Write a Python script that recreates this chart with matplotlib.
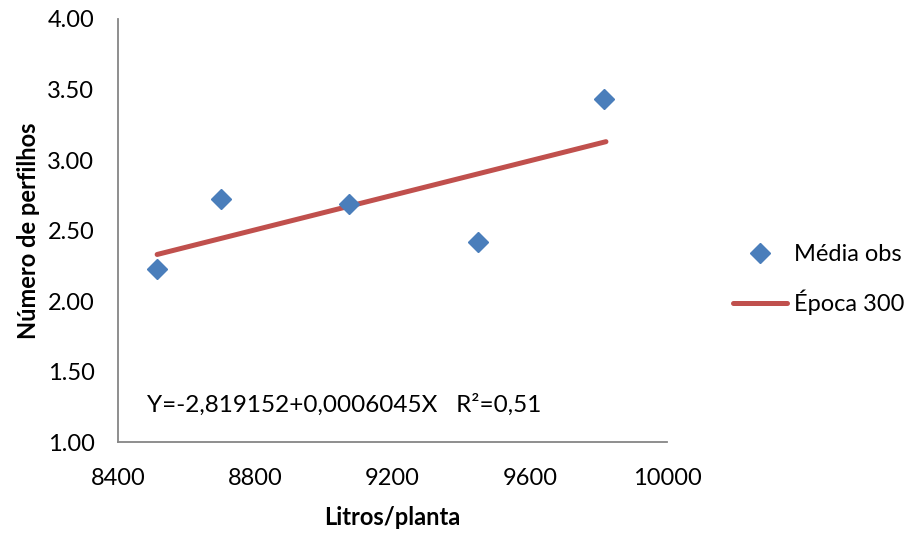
import matplotlib
matplotlib.use('Agg')
import matplotlib.pyplot as plt
from matplotlib.lines import Line2D

plt.rcParams['font.family'] = ['Lato', 'DejaVu Sans']

litros = [8514, 8700, 9073, 9450, 9815]
perfilhos = [2.23, 2.72, 2.69, 2.42, 3.43]

fit_x = [8514, 9822]
fit_y = [2.33, 3.13]

xticks = [8400, 8800, 9200, 9600, 10000]
yticks = [1.0, 1.5, 2.0, 2.5, 3.0, 3.5, 4.0]

BLUE = '#4a7ebb'
RED = '#c0504d'
GRAY = '#868686'

fig = plt.figure(figsize=(9.17, 5.35), dpi=100)
ax = fig.add_axes([0.1287, 0.1738, 0.5987, 0.7907])

ax.plot(fit_x, fit_y, color=RED, lw=3.6, solid_capstyle='round', zorder=2)
ax.plot(litros, perfilhos, 'D', color=BLUE, markersize=10.5, zorder=3)

ax.set_xlim(8400, 10000)
ax.set_ylim(1.0, 4.0)
ax.set_xticks(xticks)
ax.set_xticklabels([str(t) for t in xticks])
ax.set_yticks(yticks)
ax.set_yticklabels([f'{t:.2f}' for t in yticks])
ax.tick_params(length=0, labelsize=17)
ax.tick_params(axis='y', pad=17)
ax.tick_params(axis='x', pad=19)

for s in ['top', 'right']:
    ax.spines[s].set_visible(False)
for s in ['left', 'bottom']:
    ax.spines[s].set_color(GRAY)
    ax.spines[s].set_linewidth(1.3)

ax.set_xlabel('Litros/planta', fontsize=17, fontweight='bold', labelpad=12)
ax.set_ylabel('Número de perfilhos', fontsize=17, fontweight='bold', labelpad=5)

ax.text(0.053, 0.0875, 'Y=-2,819152+0,0006045X   R²=0,51', transform=ax.transAxes,
        fontsize=17.5, va='center', ha='left')

handles = [
    Line2D([], [], marker='D', color=BLUE, ls='none', markersize=10.5),
    Line2D([], [], color=RED, lw=3.6, solid_capstyle='round'),
]
fig.legend(handles, ['Média obs', 'Época 300'], loc='center left',
           bbox_to_anchor=(0.776, 0.477), frameon=False, fontsize=17,
           handlelength=2.3, labelspacing=1.05, handletextpad=0.3)

fig.savefig('out.png', dpi=100)
